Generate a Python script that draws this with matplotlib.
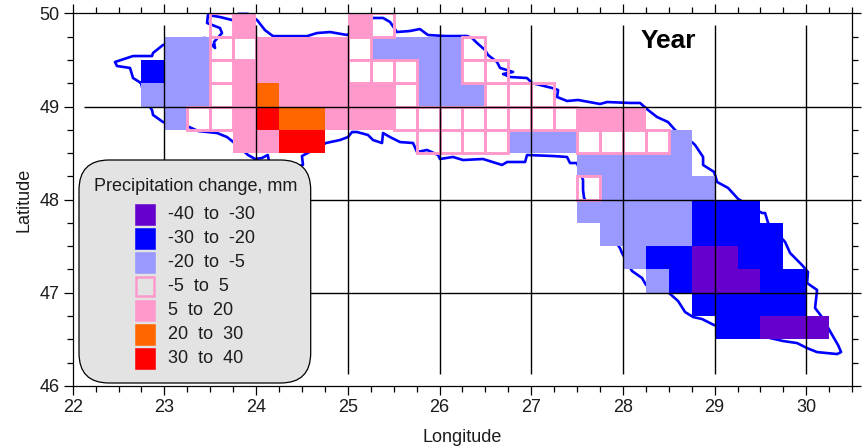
"""Gridded annual precipitation change over the basin, with outline and class legend."""

import matplotlib

matplotlib.use("Agg")
import matplotlib.pyplot as plt
from matplotlib.patches import FancyBboxPatch, Rectangle
from matplotlib.transforms import Affine2D

WIDTH, HEIGHT = 866, 448
TEXT = "#1c1c1c"

# lower-left corner of every 0.25 degree cell: one string per row, one char per column
CELL_LONS = [22.75, 23.0, 23.25, 23.5, 23.75, 24.0, 24.25, 24.5, 24.75, 25.0,
             25.25, 25.5, 25.75, 26.0, 26.25, 26.5, 26.75, 27.0, 27.25, 27.5,
             27.75, 28.0, 28.25, 28.5, 28.75, 29.0, 29.25, 29.5, 29.75, 30.0]
CELL_LATS = [49.75, 49.5, 49.25, 49.0, 48.75, 48.5, 48.25,
             48.0, 47.75, 47.5, 47.25, 47.0, 46.75, 46.5]
CELL_ROWS = [
    "...wp....pw...................",
    ".ccwwppppwccccw...............",
    "bccwpppppwwwccww..............",
    "cccwpopppppwcccwww............",
    ".cwwproopppwwwwwwwwppp........",
    "....pprr....wwwwcccwwwwc......",
    "...................ccccc......",
    "...................wccccc.....",
    "...................cccccbbb...",
    "....................ccccbbbb..",
    ".....................cbbaabb..",
    "......................cbaaabb.",
    "........................bbbbb.",
    ".........................bbaaa",
]

CLASS_KEYS = ["a", "b", "c", "w", "p", "o", "r"]
CLASS_LABELS = ["-40  to  -30", "-30  to  -20", "-20  to  -5", "-5  to  5",
                "5  to  20", "20  to  30", "30  to  40"]
CLASS_COLORS = ["#6600CC", "#0000FF", "#9999FF", "none", "#FF99CC", "#FF6600", "#FF0000"]
NEAR_ZERO_EDGE = "#FF99CC"

OUTLINE_LON = [
    22.745, 22.658, 22.625, 22.483, 22.461, 22.658, 22.865, 22.876, 22.985, 23.225,
    23.443, 23.552, 23.541, 23.628, 23.606, 23.465, 23.475, 23.606, 23.737, 23.803,
    23.912, 24.010, 24.097, 24.184, 24.555, 24.664, 24.806, 24.991, 25.13, 25.275,
    25.384, 25.46, 25.536, 25.677, 25.786, 25.874, 26.06, 26.3, 26.354, 26.409,
    26.496, 26.529, 26.627, 26.66, 26.802, 26.693, 26.769, 26.954, 27.009, 27.227,
    27.293, 27.282, 27.391, 27.511, 27.751, 27.827, 28.078, 28.187, 28.274, 28.372,
    28.492, 28.569, 28.765, 28.787, 28.874, 28.874, 28.994, 29.027, 29.147, 29.256,
    29.517, 29.55, 29.583, 29.768, 29.823, 29.953, 30.018, 30.008, 30.117, 30.095,
    30.171, 30.27, 30.346, 30.379, 30.335, 30.117, 30.008, 29.899, 29.746, 28.992,
    28.863, 28.765, 28.678, 28.601, 28.503, 28.252, 28.208, 28.099, 27.99, 27.968,
    27.576, 27.565, 27.565, 27.499, 27.423, 27.39, 27.238, 26.954, 26.933, 26.737,
    26.682, 26.474, 26.256, 26.147, 26.005, 25.984, 25.864, 25.755, 25.711, 25.569,
    25.46, 25.384, 25.373, 25.275, 25.22, 25.1, 25.046, 25.002, 24.915, 24.762,
    24.5, 24.511, 24.316, 24.149, 24.127, 24.065, 23.99, 23.912, 23.75, 23.683,
    23.575, 23.367, 23.269, 22.985, 22.876, 22.865, 22.79, 22.745,
]
OUTLINE_LAT = [
    49.252, 49.306, 49.414, 49.435, 49.478, 49.542, 49.542, 49.575, 49.661, 49.714,
    49.736, 49.628, 49.693, 49.789, 49.843, 49.897, 49.983, 49.961, 49.929, 49.995,
    49.995, 49.929, 49.82, 49.756, 49.756, 49.789, 49.8, 49.768, 49.85, 49.951,
    49.951, 49.908, 49.8, 49.811, 49.832, 49.768, 49.757, 49.757, 49.736, 49.682,
    49.607, 49.553, 49.478, 49.414, 49.371, 49.349, 49.317, 49.306, 49.252, 49.199,
    49.177, 49.102, 49.059, 49.07, 49.027, 49.048, 49.038, 49.038, 48.962, 48.887,
    48.833, 48.747, 48.607, 48.586, 48.458, 48.372, 48.297, 48.189, 48.125, 48.007,
    47.856, 47.856, 47.749, 47.545, 47.426, 47.297, 47.222, 47.104, 47.029, 46.836,
    46.738, 46.566, 46.437, 46.362, 46.341, 46.362, 46.405, 46.459, 46.481, 46.653,
    46.717, 46.739, 46.792, 46.911, 46.997, 47.083, 47.158, 47.233, 47.426, 47.479,
    48.017, 48.103, 48.21, 48.393, 48.393, 48.458, 48.468, 48.479, 48.404, 48.404,
    48.372, 48.436, 48.425, 48.458, 48.436, 48.479, 48.533, 48.511, 48.608, 48.618,
    48.672, 48.715, 48.608, 48.64, 48.694, 48.726, 48.726, 48.672, 48.64, 48.608,
    48.468, 48.372, 48.318, 48.372, 48.479, 48.447, 48.436, 48.479, 48.619, 48.672,
    48.715, 48.737, 48.78, 48.833, 48.909, 48.962, 49.07, 49.252,
]

LON_TICKS = [22, 23, 24, 25, 26, 27, 28, 29, 30]
LAT_TICKS = [46, 47, 48, 49, 50]
LON_MINOR = [22.25, 22.5, 22.75, 23.25, 23.5, 23.75, 24.25, 24.5, 24.75, 25.25, 25.5, 25.75,
             26.25, 26.5, 26.75, 27.25, 27.5, 27.75, 28.25, 28.5, 28.75, 29.25, 29.5, 29.75,
             30.25, 30.5]
LAT_MINOR = [46.25, 46.5, 46.75, 47.25, 47.5, 47.75, 48.25, 48.5, 48.75, 49.25, 49.5, 49.75]

plt.rcParams["font.family"] = ["Liberation Sans", "DejaVu Sans"]
plt.rcParams["font.size"] = 13

fig = plt.figure(figsize=(WIDTH / 100, HEIGHT / 100), dpi=100)
ax = fig.add_axes([72.7 / WIDTH, 1 - 385.8 / HEIGHT, 779.5 / WIDTH, 372.4 / HEIGHT])
ax.set_xlim(22, 30.5)
ax.set_ylim(46, 50)

# image pixels, y pointing down, for the legend box
px = Affine2D().scale(1, -1).translate(0, HEIGHT)

ax.plot(OUTLINE_LON, OUTLINE_LAT, color="#0000FF", linewidth=1.9, zorder=1, clip_on=False)

style = dict(zip(CLASS_KEYS, CLASS_COLORS))
for lat, row in zip(CELL_LATS, CELL_ROWS):
    for lon, key in zip(CELL_LONS, row):
        if key == "." or key == "w":
            continue
        # no antialiasing, otherwise seams show between neighbouring cells
        ax.add_patch(Rectangle((lon, lat), 0.25, 0.25, facecolor=style[key],
                               edgecolor="none", linewidth=0, antialiased=False, zorder=2))
for lat, row in zip(CELL_LATS, CELL_ROWS):
    for lon, key in zip(CELL_LONS, row):
        if key == "w":
            ax.add_patch(Rectangle((lon, lat), 0.25, 0.25, facecolor="none",
                                   edgecolor=NEAR_ZERO_EDGE, linewidth=2.1, zorder=3))

# grid lines stop short of the frame on the top, bottom and left
ax.hlines(LAT_TICKS[1:-1], 22.125, 30.5, color="black", linewidth=1.0, zorder=4)
ax.vlines(LON_TICKS[1:], 46.125, 49.875, color="black", linewidth=1.0, zorder=4)

ax.text(28.497, 49.70, "Year", fontsize=19, fontweight="bold", color="black", ha="center", va="center", zorder=6)

ax.set_xticks(LON_TICKS)
ax.set_yticks(LAT_TICKS)
ax.set_xticks(LON_MINOR, minor=True)
ax.set_yticks(LAT_MINOR, minor=True)
ax.tick_params(which="major", direction="out", top=True, right=True, length=6.6, width=0.9,
               labelsize=13, labelcolor=TEXT, pad=3)
ax.tick_params(which="minor", direction="out", top=True, right=True, length=4.3, width=0.9)
for spine in ax.spines.values():
    spine.set_linewidth(0.9)
    spine.set_zorder(5)

fig.text(462 / WIDTH, 1 - 437 / HEIGHT, "Longitude", ha="center", va="center", color=TEXT)
fig.text(24 / WIDTH, 1 - 200 / HEIGHT, "Latitude", ha="center", va="center", rotation=90, color=TEXT)

# legend box, on top of the map
fig.add_artist(FancyBboxPatch((79 + 30, 160 + 30), 231.7 - 60, 223 - 60,
                              boxstyle="round,pad=30,rounding_size=30", transform=px,
                              facecolor="#E3E3E3", edgecolor="black", linewidth=0.9, zorder=7))
fig.add_artist(plt.Text(195.5, 186, "Precipitation change, mm", transform=px, ha="center",
                        va="center", color=TEXT, fontsize=13, zorder=8))
for i, (label, color) in enumerate(zip(CLASS_LABELS, CLASS_COLORS)):
    top = 204 + 24 * i
    near_zero = color == "none"
    fig.add_artist(Rectangle((134.5 + near_zero * 1.0, top + near_zero * 1.0),
                             20.5 - near_zero * 2.0, 20.5 - near_zero * 2.0,
                             transform=px, facecolor=color,
                             edgecolor=NEAR_ZERO_EDGE if near_zero else color,
                             linewidth=1.8 if near_zero else 0.4, zorder=8))
    fig.add_artist(plt.Text(168.5, top + 10.5, label, transform=px, ha="left", va="center",
                            color=TEXT, fontsize=13, zorder=8))

fig.savefig("out.png", dpi=100, facecolor="white")
plt.close(fig)
